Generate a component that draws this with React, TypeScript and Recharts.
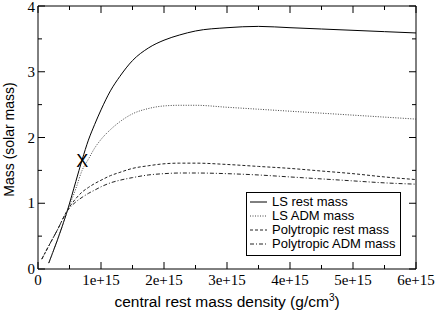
import { ComposedChart, Line, XAxis, YAxis, ReferenceLine, ReferenceDot, Legend } from "recharts"

// central rest mass density, in units of 1e15 g/cm^3
const density = [0.06, 0.17, 0.3, 0.47, 0.6, 0.7, 0.8, 0.9, 1.0, 1.15, 1.3, 1.5, 1.75, 2.0, 2.25, 2.5, 3.0, 3.5, 4.0, 4.5, 5.0, 5.5, 6.0]
const lsRest = [null, 0.09, 0.42, 0.9, 1.33, 1.66, 1.96, 2.2, 2.42, 2.71, 2.93, 3.17, 3.36, 3.48, 3.56, 3.62, 3.67, 3.69, 3.67, 3.65, 3.63, 3.61, 3.59]
const lsAdm = [null, 0.09, 0.42, 0.89, 1.22, 1.5, 1.67, 1.84, 1.97, 2.12, 2.24, 2.36, 2.44, 2.48, 2.49, 2.49, 2.46, 2.43, 2.4, 2.37, 2.34, 2.31, 2.28]
const polyRest = [0.15, 0.35, 0.58, 0.9, 1.07, 1.17, 1.24, 1.3, 1.35, 1.42, 1.47, 1.53, 1.57, 1.6, 1.61, 1.61, 1.59, 1.56, 1.53, 1.49, 1.45, 1.4, 1.36]
const polyAdm = [0.15, 0.35, 0.58, 0.89, 1.02, 1.09, 1.15, 1.2, 1.25, 1.31, 1.35, 1.39, 1.43, 1.45, 1.46, 1.46, 1.45, 1.43, 1.4, 1.37, 1.34, 1.31, 1.29]

const xTicks = [0, 0.5, 1, 1.5, 2, 2.5, 3, 3.5, 4, 4.5, 5, 5.5, 6]
const yTicks = [0, 0.5, 1, 1.5, 2, 2.5, 3, 3.5, 4]

// the "X" mark on the LS rest mass curve
const markRho = 0.703
const markMass = 1.65

const data = density.map((d, i) => ({
  rho: d * 1e15,
  lsRest: lsRest[i],
  lsAdm: lsAdm[i],
  polyRest: polyRest[i],
  polyAdm: polyAdm[i],
}))

const series = [
  { key: "lsRest", name: "LS rest mass", dash: undefined, color: "#000" },
  { key: "lsAdm", name: "LS ADM mass", dash: "1 1.5", color: "#444" },
  { key: "polyRest", name: "Polytropic rest mass", dash: "3 2", color: "#222" },
  { key: "polyAdm", name: "Polytropic ADM mass", dash: "4 2 1 2", color: "#222" },
]

const W = 436
const H = 312
const TOP = 6
const LEFT = 38
const RIGHT = 416
const BOTTOM = 269
const serif = "'Liberation Serif', 'Times New Roman', 'DejaVu Serif', serif"
const sans = "'Liberation Sans', Arial, sans-serif"

const XTick = (props: any) => {
  const { x, payload } = props
  const v = payload.value / 1e15
  const major = Number.isInteger(v)
  const len = major ? 7 : 4
  return (
    <g>
      <line x1={x} y1={BOTTOM} x2={x} y2={BOTTOM - len} stroke="#000" />
      <line x1={x} y1={TOP} x2={x} y2={TOP + len} stroke="#000" />
      {major && (
        <text x={x} y={BOTTOM + 16} textAnchor="middle" style={{ fontFamily: serif, fontSize: 15 }} fill="#000">
          {v === 0 ? "0" : `${v}e+15`}
        </text>
      )}
    </g>
  )
}

const YTick = (props: any) => {
  const { y, payload } = props
  const v = payload.value
  const major = Number.isInteger(v)
  const len = major ? 7 : 4
  return (
    <g>
      <line x1={LEFT} y1={y} x2={LEFT + len} y2={y} stroke="#000" />
      <line x1={RIGHT} y1={y} x2={RIGHT - len} y2={y} stroke="#000" />
      {major && (
        <text x={LEFT - 3} y={Math.max(y + 5, 12)} textAnchor="end" style={{ fontFamily: serif, fontSize: 15 }} fill="#000">
          {v}
        </text>
      )}
    </g>
  )
}

const XTitle = () => (
  <text x={(LEFT + RIGHT) / 2} y={307} textAnchor="middle" style={{ fontFamily: sans, fontSize: 15.5 }} fill="#000">
    central rest mass density (g/cm
    <tspan dy={-6} style={{ fontSize: 10 }}>3</tspan>
    <tspan dy={6}>)</tspan>
  </text>
)

const YTitle = () => (
  <text
    x={13.5}
    y={139.5}
    transform="rotate(-90 13.5 139.5)"
    textAnchor="middle"
    style={{ fontFamily: sans, fontSize: 14 }}
    fill="#000"
  >
    Mass (solar mass)
  </text>
)

const LegendBox = () => (
  <div
    style={{
      border: "1px solid #000",
      background: "#fff",
      padding: "2px 4px 4px 3px",
      fontFamily: sans,
      fontSize: 13,
      color: "#000",
      width: 146,
      boxSizing: "content-box",
    }}
  >
    {series.map((s) => (
      <div key={s.key} style={{ display: "flex", alignItems: "center", height: 14 }}>
        <svg width={22} height={14} style={{ flex: "none" }}>
          <line x1={0} y1={7} x2={17} y2={7} stroke={s.color} strokeDasharray={s.dash} />
        </svg>
        <span style={{ lineHeight: "14px", whiteSpace: "nowrap" }}>{s.name}</span>
      </div>
    ))}
  </div>
)

export default function App() {
  return (
    <div style={{ position: "absolute", left: 0, top: 0, background: "#fff" }}>
      <ComposedChart width={W} height={H} data={data} margin={{ top: TOP, right: W - RIGHT, left: 0, bottom: 0 }}>
        <XAxis
          dataKey="rho"
          type="number"
          domain={[0, 6e15]}
          ticks={xTicks.map((t) => t * 1e15)}
          interval={0}
          height={H - BOTTOM}
          tickLine={false}
          axisLine={{ stroke: "#000" }}
          tick={<XTick />}
          label={<XTitle />}
        />
        <YAxis
          type="number"
          domain={[0, 4]}
          ticks={yTicks}
          interval={0}
          width={LEFT}
          tickLine={false}
          axisLine={{ stroke: "#000" }}
          tick={<YTick />}
          label={<YTitle />}
        />
        <ReferenceLine y={4} stroke="#000" />
        <ReferenceLine x={6e15} stroke="#000" />
        {series.map((s) => (
          <Line
            key={s.key}
            dataKey={s.key}
            name={s.name}
            type="monotone"
            stroke={s.color}
            strokeWidth={1}
            strokeDasharray={s.dash}
            dot={false}
            activeDot={false}
            isAnimationActive={false}
          />
        ))}
        <ReferenceDot
          x={markRho * 1e15}
          y={markMass}
          shape={(p: any) => (
            <text x={p.cx} y={p.cy + 6.5} textAnchor="middle" style={{ fontFamily: sans, fontSize: 18 }} fill="#000">
              X
            </text>
          )}
        />
        <Legend
          verticalAlign="middle"
          align="center"
          layout="horizontal"
          wrapperStyle={{ left: 246, top: 192, width: 155, height: 64 }}
          content={<LegendBox />}
        />
      </ComposedChart>
    </div>
  )
}
